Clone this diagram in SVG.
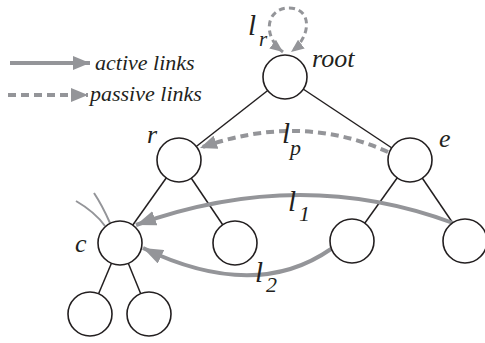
<svg xmlns="http://www.w3.org/2000/svg" width="485" height="343" viewBox="0 0 485 343">
<style>
.node{fill:#fff;stroke:#231f20;stroke-width:1.6}
.edge{stroke:#231f20;stroke-width:1.5;fill:none}
.act{stroke:#949599;stroke-width:4;fill:none}
.pas{stroke:#949599;stroke-width:4;fill:none;stroke-dasharray:8 5}
.thin{stroke:#949599;stroke-width:2;fill:none}
.lbl{font-family:"Liberation Serif","Times New Roman",serif;font-style:italic;fill:#231f20}
</style>
<defs>
<marker id="big" markerUnits="userSpaceOnUse" markerWidth="20" markerHeight="15" refX="20" refY="7.5" orient="auto"><path d="M0,0 L20,7.5 L0,15 z" fill="#949599"/></marker>
<marker id="mid" markerUnits="userSpaceOnUse" markerWidth="17" markerHeight="14" refX="17" refY="7" orient="auto"><path d="M0,0 L17,7 L0,14 z" fill="#949599"/></marker>
<marker id="sm" markerUnits="userSpaceOnUse" markerWidth="13" markerHeight="11" refX="13" refY="5.5" orient="auto-start-reverse"><path d="M0,0 L13,5.5 L0,11 z" fill="#949599"/></marker>
</defs>
<g id="legend">
<path class="act" d="M10,63 L90,63" marker-end="url(#mid)"/>
<path class="pas" d="M8,95 L88,95" marker-end="url(#mid)"/>
<text class="lbl" x="95" y="70" font-size="22">active links</text>
<text class="lbl" x="90" y="101" font-size="22">passive links</text>
</g>
<g id="connectors">
<line class="edge" x1="285" y1="77" x2="179" y2="160"/>
<line class="edge" x1="285" y1="77" x2="410" y2="160"/>
<line class="edge" x1="179" y1="160" x2="120" y2="243"/>
<line class="edge" x1="179" y1="160" x2="235" y2="243"/>
<line class="edge" x1="120" y1="243" x2="90" y2="314"/>
<line class="edge" x1="120" y1="243" x2="149" y2="314"/>
<line class="edge" x1="410" y1="160" x2="352" y2="241"/>
<line class="edge" x1="410" y1="160" x2="465" y2="241"/>
<path class="thin" d="M76,201 Q95,212 105,226"/>
<path class="thin" d="M94,193 Q102,205 110,223"/>
<path class="pas" style="stroke-width:3;stroke-dasharray:6 4" d="M283,52 C262,36 266,8 289,8 C312,8 312,36 291,52" marker-start="url(#sm)" marker-end="url(#sm)"/>
<path class="pas" d="M388,152 Q300,112 200,148" marker-end="url(#mid)"/>
<path class="act" d="M453,223 Q300,166 136,225" marker-end="url(#big)"/>
<path class="act" d="M331,249 Q255,302 143,248" marker-end="url(#big)"/>
</g>
<g id="root"><circle class="node" cx="285" cy="77" r="22"/><text class="lbl" x="312" y="67" font-size="26">root</text></g>
<g id="r"><circle class="node" cx="179" cy="160" r="22"/><text class="lbl" x="147" y="143" font-size="26">r</text></g>
<g id="e"><circle class="node" cx="410" cy="160" r="22"/><text class="lbl" x="439" y="147" font-size="26">e</text></g>
<g id="c"><circle class="node" cx="120" cy="243" r="22"/><text class="lbl" x="75" y="252" font-size="26">c</text></g>
<g id="r-right"><circle class="node" cx="235" cy="243" r="22"/></g>
<g id="e-left"><circle class="node" cx="352" cy="241" r="22"/></g>
<g id="e-right"><circle class="node" cx="465" cy="241" r="22"/></g>
<g id="c-left"><circle class="node" cx="90" cy="314" r="22"/></g>
<g id="c-right"><circle class="node" cx="149" cy="314" r="22"/></g>
<g id="labels">
<text class="lbl" x="248" y="35" font-size="29">l</text><text class="lbl" x="259" y="46" font-size="21">r</text>
<text class="lbl" x="282" y="143" font-size="29">l</text><text class="lbl" x="290" y="155" font-size="22">p</text>
<text class="lbl" x="288" y="211" font-size="29">l</text><text class="lbl" x="299" y="221" font-size="22">1</text>
<text class="lbl" x="255" y="282" font-size="29">l</text><text class="lbl" x="266" y="292" font-size="22">2</text>
</g>
</svg>
